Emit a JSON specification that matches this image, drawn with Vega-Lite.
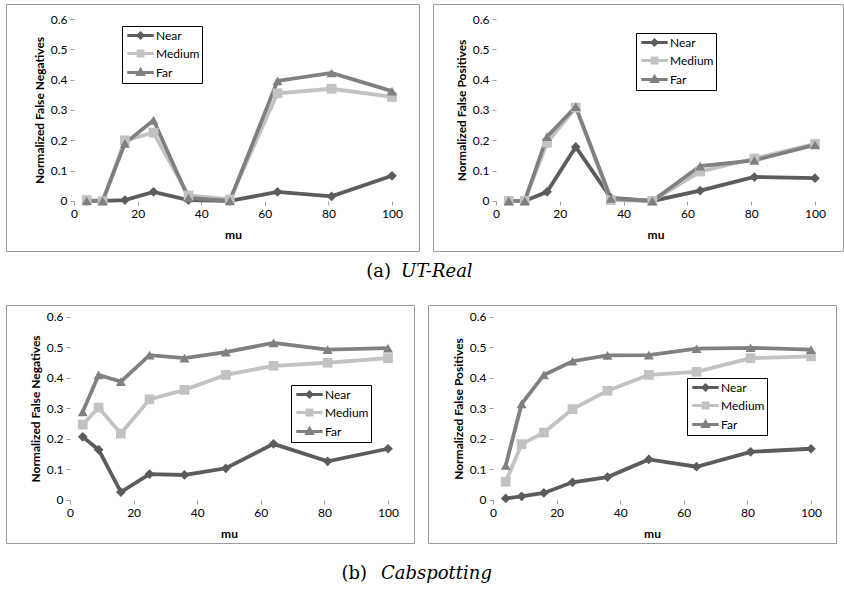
{
  "$schema": "https://vega.github.io/schema/vega-lite/v6.json",
  "padding": {"left": 5, "top": 3, "right": 0, "bottom": 0},
  "spacing": 22,
  "datasets": {
    "grid": [{"v": 0.1}, {"v": 0.2}, {"v": 0.3}, {"v": 0.4}, {"v": 0.5}, {"v": 0.6}],
    "d": [
      {"p":"a1","s":"Near","mu":4,"v":0},{"p":"a1","s":"Near","mu":9,"v":0},{"p":"a1","s":"Near","mu":16,"v":0.003},{"p":"a1","s":"Near","mu":25,"v":0.03},{"p":"a1","s":"Near","mu":36,"v":0.003},{"p":"a1","s":"Near","mu":49,"v":0},{"p":"a1","s":"Near","mu":64,"v":0.03},{"p":"a1","s":"Near","mu":81,"v":0.015},{"p":"a1","s":"Near","mu":100,"v":0.083},
      {"p":"a1","s":"Medium","mu":4,"v":0.003},{"p":"a1","s":"Medium","mu":9,"v":0},{"p":"a1","s":"Medium","mu":16,"v":0.2},{"p":"a1","s":"Medium","mu":25,"v":0.225},{"p":"a1","s":"Medium","mu":36,"v":0.018},{"p":"a1","s":"Medium","mu":49,"v":0.005},{"p":"a1","s":"Medium","mu":64,"v":0.355},{"p":"a1","s":"Medium","mu":81,"v":0.37},{"p":"a1","s":"Medium","mu":100,"v":0.343},
      {"p":"a1","s":"Far","mu":4,"v":0},{"p":"a1","s":"Far","mu":9,"v":0},{"p":"a1","s":"Far","mu":16,"v":0.19},{"p":"a1","s":"Far","mu":25,"v":0.266},{"p":"a1","s":"Far","mu":36,"v":0.01},{"p":"a1","s":"Far","mu":49,"v":0},{"p":"a1","s":"Far","mu":64,"v":0.396},{"p":"a1","s":"Far","mu":81,"v":0.422},{"p":"a1","s":"Far","mu":100,"v":0.362},
      {"p":"a2","s":"Near","mu":4,"v":0},{"p":"a2","s":"Near","mu":9,"v":0},{"p":"a2","s":"Near","mu":16,"v":0.03},{"p":"a2","s":"Near","mu":25,"v":0.178},{"p":"a2","s":"Near","mu":36,"v":0.01},{"p":"a2","s":"Near","mu":49,"v":0},{"p":"a2","s":"Near","mu":64,"v":0.034},{"p":"a2","s":"Near","mu":81,"v":0.079},{"p":"a2","s":"Near","mu":100,"v":0.075},
      {"p":"a2","s":"Medium","mu":4,"v":0},{"p":"a2","s":"Medium","mu":9,"v":0},{"p":"a2","s":"Medium","mu":16,"v":0.192},{"p":"a2","s":"Medium","mu":25,"v":0.308},{"p":"a2","s":"Medium","mu":36,"v":0.003},{"p":"a2","s":"Medium","mu":49,"v":0},{"p":"a2","s":"Medium","mu":64,"v":0.097},{"p":"a2","s":"Medium","mu":81,"v":0.14},{"p":"a2","s":"Medium","mu":100,"v":0.188},
      {"p":"a2","s":"Far","mu":4,"v":0},{"p":"a2","s":"Far","mu":9,"v":0},{"p":"a2","s":"Far","mu":16,"v":0.212},{"p":"a2","s":"Far","mu":25,"v":0.311},{"p":"a2","s":"Far","mu":36,"v":0.008},{"p":"a2","s":"Far","mu":49,"v":0},{"p":"a2","s":"Far","mu":64,"v":0.115},{"p":"a2","s":"Far","mu":81,"v":0.134},{"p":"a2","s":"Far","mu":100,"v":0.185},
      {"p":"b1","s":"Near","mu":4,"v":0.207},{"p":"b1","s":"Near","mu":9,"v":0.165},{"p":"b1","s":"Near","mu":16,"v":0.026},{"p":"b1","s":"Near","mu":25,"v":0.085},{"p":"b1","s":"Near","mu":36,"v":0.082},{"p":"b1","s":"Near","mu":49,"v":0.104},{"p":"b1","s":"Near","mu":64,"v":0.184},{"p":"b1","s":"Near","mu":81,"v":0.127},{"p":"b1","s":"Near","mu":100,"v":0.168},
      {"p":"b1","s":"Medium","mu":4,"v":0.247},{"p":"b1","s":"Medium","mu":9,"v":0.303},{"p":"b1","s":"Medium","mu":16,"v":0.218},{"p":"b1","s":"Medium","mu":25,"v":0.33},{"p":"b1","s":"Medium","mu":36,"v":0.361},{"p":"b1","s":"Medium","mu":49,"v":0.41},{"p":"b1","s":"Medium","mu":64,"v":0.44},{"p":"b1","s":"Medium","mu":81,"v":0.45},{"p":"b1","s":"Medium","mu":100,"v":0.465},
      {"p":"b1","s":"Far","mu":4,"v":0.289},{"p":"b1","s":"Far","mu":9,"v":0.41},{"p":"b1","s":"Far","mu":16,"v":0.388},{"p":"b1","s":"Far","mu":25,"v":0.475},{"p":"b1","s":"Far","mu":36,"v":0.465},{"p":"b1","s":"Far","mu":49,"v":0.485},{"p":"b1","s":"Far","mu":64,"v":0.515},{"p":"b1","s":"Far","mu":81,"v":0.493},{"p":"b1","s":"Far","mu":100,"v":0.498},
      {"p":"b2","s":"Near","mu":4,"v":0.005},{"p":"b2","s":"Near","mu":9,"v":0.012},{"p":"b2","s":"Near","mu":16,"v":0.023},{"p":"b2","s":"Near","mu":25,"v":0.058},{"p":"b2","s":"Near","mu":36,"v":0.075},{"p":"b2","s":"Near","mu":49,"v":0.133},{"p":"b2","s":"Near","mu":64,"v":0.109},{"p":"b2","s":"Near","mu":81,"v":0.158},{"p":"b2","s":"Near","mu":100,"v":0.168},
      {"p":"b2","s":"Medium","mu":4,"v":0.06},{"p":"b2","s":"Medium","mu":9,"v":0.183},{"p":"b2","s":"Medium","mu":16,"v":0.221},{"p":"b2","s":"Medium","mu":25,"v":0.298},{"p":"b2","s":"Medium","mu":36,"v":0.358},{"p":"b2","s":"Medium","mu":49,"v":0.41},{"p":"b2","s":"Medium","mu":64,"v":0.42},{"p":"b2","s":"Medium","mu":81,"v":0.465},{"p":"b2","s":"Medium","mu":100,"v":0.471},
      {"p":"b2","s":"Far","mu":4,"v":0.113},{"p":"b2","s":"Far","mu":9,"v":0.315},{"p":"b2","s":"Far","mu":16,"v":0.41},{"p":"b2","s":"Far","mu":25,"v":0.455},{"p":"b2","s":"Far","mu":36,"v":0.474},{"p":"b2","s":"Far","mu":49,"v":0.475},{"p":"b2","s":"Far","mu":64,"v":0.496},{"p":"b2","s":"Far","mu":81,"v":0.499},{"p":"b2","s":"Far","mu":100,"v":0.493}
    ]
  },
  "resolve": {"scale": {"x": "independent", "y": "independent", "fill": "independent", "stroke": "independent", "shape": "independent"}, "legend": {"fill": "independent", "stroke": "independent", "shape": "independent"}},
  "vconcat": [
    {
      "hconcat": [
        {
          "width": 413, "height": 247,
          "title": {"text": "(a)", "orient": "bottom", "anchor": "end", "frame": "group", "dx": -28, "offset": 12, "baseline": "top", "font": "DejaVu Serif", "fontSize": 18, "fontWeight": "normal", "color": "#000"},
          "encoding": {
            "x": {"field": "mu", "type": "quantitative", "scale": {"domain": [-21.4, 108.5], "nice": false, "zero": false}, "axis": {"values": [0, 20, 40, 60, 80, 100], "offset": -50, "title": "mu", "titleX": 227, "titlePadding": 10}},
            "y": {"field": "v", "type": "quantitative", "scale": {"domain": [-0.165, 0.6495], "nice": false, "zero": false}, "axis": {"values": [0, 0.1, 0.2, 0.3, 0.4, 0.5, 0.6], "format": ".1~f", "offset": -68, "title": "Normalized False Negatives", "titleY": 106}}
          },
          "layer": [
            {"data": {"name": "grid"}, "mark": {"type": "rule", "color": "#b3b3b3", "strokeWidth": 1}, "encoding": {"x": {"datum": 0}, "x2": {"datum": 100}}},
            {"data": {"values": [{}]}, "mark": {"type": "rule", "color": "#a6a6a6", "strokeWidth": 1}, "encoding": {"x": {"datum": 0}, "x2": {"datum": 100}, "y": {"datum": 0}}},
            {"data": {"values": [{}]}, "mark": {"type": "rule", "color": "#b3b3b3", "strokeWidth": 1}, "encoding": {"x": {"datum": 0}, "y": {"datum": 0}, "y2": {"datum": 0.6}}},
            {"data": {"name": "d"}, "transform": [{"filter": "datum.p=='a1'"}], "mark": {"type": "line", "strokeWidth": 3.8}, "encoding": {"stroke": {"field": "s", "type": "nominal", "scale": {"domain": ["Near", "Medium", "Far"], "range": ["#5c5c5c", "#c2c2c2", "#808080"]}, "legend": {"orient": "none", "legendX": 116, "legendY": 22, "title": null, "labelExpr": "datum.label + '  '"}}}},
            {"data": {"name": "d"}, "transform": [{"filter": "datum.p=='a1' && datum.s=='Near'"}], "mark": {"type": "point", "shape": "diamond", "filled": true, "opacity": 1, "size": 95, "color": "#5c5c5c"}},
            {"data": {"name": "d"}, "transform": [{"filter": "datum.p=='a1' && datum.s=='Medium'"}], "mark": {"type": "point", "shape": "square", "filled": true, "opacity": 1, "size": 95, "color": "#c2c2c2"}},
            {"data": {"name": "d"}, "transform": [{"filter": "datum.p=='a1' && datum.s=='Far'"}], "mark": {"type": "point", "shape": "triangle-up", "filled": true, "opacity": 1, "size": 100, "color": "#808080"}},
            {"data": {"name": "d"}, "transform": [{"filter": "false"}], "mark": {"type": "point", "filled": true, "opacity": 1},
             "encoding": {
               "fill": {"field": "s", "type": "nominal", "scale": {"domain": ["Near", "Medium", "Far"], "range": ["#5c5c5c", "#c2c2c2", "#808080"]}, "legend": {"orient": "none", "legendX": 116, "legendY": 22, "title": null, "labelExpr": "datum.label + '  '"}},
               "stroke": {"field": "s", "type": "nominal", "scale": {"domain": ["Near", "Medium", "Far"], "range": ["#5c5c5c", "#c2c2c2", "#808080"]}, "legend": {"orient": "none", "legendX": 116, "legendY": 22, "title": null, "labelExpr": "datum.label + '  '"}},
               "shape": {"field": "s", "type": "nominal", "scale": {"domain": ["Near", "Medium", "Far"], "range": ["M-0.7,0L3.7,0M1.5,-0.4L1.9,0L1.5,0.4L1.1,0Z", "M-0.7,0L3.7,0M1.1,-0.4L1.9,-0.4L1.9,0.4L1.1,0.4Z", "M-0.7,0L3.7,0M1.5,-0.45L1.95,0.35L1.05,0.35Z"]}, "legend": {"orient": "none", "legendX": 116, "legendY": 22, "title": null, "labelExpr": "datum.label + '  '"}}
             }}
          ]
        },
        {
          "width": 410, "height": 247,
          "title": {"text": "UT-Real", "orient": "bottom", "anchor": "start", "frame": "group", "dx": -32, "offset": 12, "baseline": "top", "font": "DejaVu Serif", "fontSize": 18, "fontStyle": "italic", "fontWeight": "normal", "color": "#000"},
          "encoding": {
            "x": {"field": "mu", "type": "quantitative", "scale": {"domain": [-19.75, 108.78], "nice": false, "zero": false}, "axis": {"values": [0, 20, 40, 60, 80, 100], "offset": -50, "title": "mu", "titleX": 222.5, "titlePadding": 10}},
            "y": {"field": "v", "type": "quantitative", "scale": {"domain": [-0.165, 0.6495], "nice": false, "zero": false}, "axis": {"values": [0, 0.1, 0.2, 0.3, 0.4, 0.5, 0.6], "format": ".1~f", "offset": -63, "title": "Normalized False Positives", "titleY": 106}}
          },
          "layer": [
            {"data": {"name": "grid"}, "mark": {"type": "rule", "color": "#b3b3b3", "strokeWidth": 1}, "encoding": {"x": {"datum": 0}, "x2": {"datum": 100}}},
            {"data": {"values": [{}]}, "mark": {"type": "rule", "color": "#a6a6a6", "strokeWidth": 1}, "encoding": {"x": {"datum": 0}, "x2": {"datum": 100}, "y": {"datum": 0}}},
            {"data": {"values": [{}]}, "mark": {"type": "rule", "color": "#b3b3b3", "strokeWidth": 1}, "encoding": {"x": {"datum": 0}, "y": {"datum": 0}, "y2": {"datum": 0.6}}},
            {"data": {"name": "d"}, "transform": [{"filter": "datum.p=='a2'"}], "mark": {"type": "line", "strokeWidth": 3.8}, "encoding": {"stroke": {"field": "s", "type": "nominal", "scale": {"domain": ["Near", "Medium", "Far"], "range": ["#5c5c5c", "#c2c2c2", "#808080"]}, "legend": {"orient": "none", "legendX": 203, "legendY": 29, "title": null, "labelExpr": "datum.label + '  '"}}}},
            {"data": {"name": "d"}, "transform": [{"filter": "datum.p=='a2' && datum.s=='Near'"}], "mark": {"type": "point", "shape": "diamond", "filled": true, "opacity": 1, "size": 95, "color": "#5c5c5c"}},
            {"data": {"name": "d"}, "transform": [{"filter": "datum.p=='a2' && datum.s=='Medium'"}], "mark": {"type": "point", "shape": "square", "filled": true, "opacity": 1, "size": 95, "color": "#c2c2c2"}},
            {"data": {"name": "d"}, "transform": [{"filter": "datum.p=='a2' && datum.s=='Far'"}], "mark": {"type": "point", "shape": "triangle-up", "filled": true, "opacity": 1, "size": 100, "color": "#808080"}},
            {"data": {"name": "d"}, "transform": [{"filter": "false"}], "mark": {"type": "point", "filled": true, "opacity": 1},
             "encoding": {
               "fill": {"field": "s", "type": "nominal", "scale": {"domain": ["Near", "Medium", "Far"], "range": ["#5c5c5c", "#c2c2c2", "#808080"]}, "legend": {"orient": "none", "legendX": 203, "legendY": 29, "title": null, "labelExpr": "datum.label + '  '"}},
               "stroke": {"field": "s", "type": "nominal", "scale": {"domain": ["Near", "Medium", "Far"], "range": ["#5c5c5c", "#c2c2c2", "#808080"]}, "legend": {"orient": "none", "legendX": 203, "legendY": 29, "title": null, "labelExpr": "datum.label + '  '"}},
               "shape": {"field": "s", "type": "nominal", "scale": {"domain": ["Near", "Medium", "Far"], "range": ["M-0.7,0L3.7,0M1.5,-0.4L1.9,0L1.5,0.4L1.1,0Z", "M-0.7,0L3.7,0M1.1,-0.4L1.9,-0.4L1.9,0.4L1.1,0.4Z", "M-0.7,0L3.7,0M1.5,-0.45L1.95,0.35L1.05,0.35Z"]}, "legend": {"orient": "none", "legendX": 203, "legendY": 29, "title": null, "labelExpr": "datum.label + '  '"}}
             }}
          ]
        }
      ],
      "spacing": 14,
      "bounds": "flush",
      "resolve": {"scale": {"x": "independent", "y": "independent", "fill": "independent", "stroke": "independent", "shape": "independent"}, "legend": {"fill": "independent", "stroke": "independent", "shape": "independent"}}
    },
    {
      "hconcat": [
        {
          "width": 408, "height": 238,
          "title": {"text": "(b)", "orient": "bottom", "anchor": "end", "frame": "group", "dx": -47, "offset": 22, "baseline": "top", "font": "DejaVu Serif", "fontSize": 18, "fontWeight": "normal", "color": "#000"},
          "encoding": {
            "x": {"field": "mu", "type": "quantitative", "scale": {"domain": [-20.13, 108.18], "nice": false, "zero": false}, "axis": {"values": [0, 20, 40, 60, 80, 100], "offset": -43, "title": "mu", "titleX": 223, "titlePadding": 10}},
            "y": {"field": "v", "type": "quantitative", "scale": {"domain": [-0.141, 0.6393], "nice": false, "zero": false}, "axis": {"values": [0, 0.1, 0.2, 0.3, 0.4, 0.5, 0.6], "format": ".1~f", "offset": -64, "title": "Normalized False Negatives", "titleY": 103.5}}
          },
          "layer": [
            {"data": {"name": "grid"}, "mark": {"type": "rule", "color": "#b3b3b3", "strokeWidth": 1}, "encoding": {"x": {"datum": 0}, "x2": {"datum": 100}}},
            {"data": {"values": [{}]}, "mark": {"type": "rule", "color": "#a6a6a6", "strokeWidth": 1}, "encoding": {"x": {"datum": 0}, "x2": {"datum": 100}, "y": {"datum": 0}}},
            {"data": {"values": [{}]}, "mark": {"type": "rule", "color": "#b3b3b3", "strokeWidth": 1}, "encoding": {"x": {"datum": 0}, "y": {"datum": 0}, "y2": {"datum": 0.6}}},
            {"data": {"name": "d"}, "transform": [{"filter": "datum.p=='b1'"}], "mark": {"type": "line", "strokeWidth": 3.8}, "encoding": {"stroke": {"field": "s", "type": "nominal", "scale": {"domain": ["Near", "Medium", "Far"], "range": ["#5c5c5c", "#c2c2c2", "#808080"]}, "legend": {"orient": "none", "legendX": 285, "legendY": 80, "title": null, "labelExpr": "datum.label + '  '"}}}},
            {"data": {"name": "d"}, "transform": [{"filter": "datum.p=='b1' && datum.s=='Near'"}], "mark": {"type": "point", "shape": "diamond", "filled": true, "opacity": 1, "size": 95, "color": "#5c5c5c"}},
            {"data": {"name": "d"}, "transform": [{"filter": "datum.p=='b1' && datum.s=='Medium'"}], "mark": {"type": "point", "shape": "square", "filled": true, "opacity": 1, "size": 95, "color": "#c2c2c2"}},
            {"data": {"name": "d"}, "transform": [{"filter": "datum.p=='b1' && datum.s=='Far'"}], "mark": {"type": "point", "shape": "triangle-up", "filled": true, "opacity": 1, "size": 100, "color": "#808080"}},
            {"data": {"name": "d"}, "transform": [{"filter": "false"}], "mark": {"type": "point", "filled": true, "opacity": 1},
             "encoding": {
               "fill": {"field": "s", "type": "nominal", "scale": {"domain": ["Near", "Medium", "Far"], "range": ["#5c5c5c", "#c2c2c2", "#808080"]}, "legend": {"orient": "none", "legendX": 285, "legendY": 80, "title": null, "labelExpr": "datum.label + '  '"}},
               "stroke": {"field": "s", "type": "nominal", "scale": {"domain": ["Near", "Medium", "Far"], "range": ["#5c5c5c", "#c2c2c2", "#808080"]}, "legend": {"orient": "none", "legendX": 285, "legendY": 80, "title": null, "labelExpr": "datum.label + '  '"}},
               "shape": {"field": "s", "type": "nominal", "scale": {"domain": ["Near", "Medium", "Far"], "range": ["M-0.7,0L3.7,0M1.5,-0.4L1.9,0L1.5,0.4L1.1,0Z", "M-0.7,0L3.7,0M1.1,-0.4L1.9,-0.4L1.9,0.4L1.1,0.4Z", "M-0.7,0L3.7,0M1.5,-0.45L1.95,0.35L1.05,0.35Z"]}, "legend": {"orient": "none", "legendX": 285, "legendY": 80, "title": null, "labelExpr": "datum.label + '  '"}}
             }}
          ]
        },
        {
          "width": 408, "height": 238,
          "title": {"text": "Cabspotting", "orient": "bottom", "anchor": "start", "frame": "group", "dx": -47, "offset": 22, "baseline": "top", "font": "DejaVu Serif", "fontSize": 18, "fontStyle": "italic", "fontWeight": "normal", "color": "#000"},
          "encoding": {
            "x": {"field": "mu", "type": "quantitative", "scale": {"domain": [-20.44, 107.86], "nice": false, "zero": false}, "axis": {"values": [0, 20, 40, 60, 80, 100], "offset": -43, "title": "mu", "titleX": 224, "titlePadding": 10}},
            "y": {"field": "v", "type": "quantitative", "scale": {"domain": [-0.141, 0.6393], "nice": false, "zero": false}, "axis": {"values": [0, 0.1, 0.2, 0.3, 0.4, 0.5, 0.6], "format": ".1~f", "offset": -65, "title": "Normalized False Positives", "titleY": 103.5}}
          },
          "layer": [
            {"data": {"name": "grid"}, "mark": {"type": "rule", "color": "#b3b3b3", "strokeWidth": 1}, "encoding": {"x": {"datum": 0}, "x2": {"datum": 100}}},
            {"data": {"values": [{}]}, "mark": {"type": "rule", "color": "#a6a6a6", "strokeWidth": 1}, "encoding": {"x": {"datum": 0}, "x2": {"datum": 100}, "y": {"datum": 0}}},
            {"data": {"values": [{}]}, "mark": {"type": "rule", "color": "#b3b3b3", "strokeWidth": 1}, "encoding": {"x": {"datum": 0}, "y": {"datum": 0}, "y2": {"datum": 0.6}}},
            {"data": {"name": "d"}, "transform": [{"filter": "datum.p=='b2'"}], "mark": {"type": "line", "strokeWidth": 3.8}, "encoding": {"stroke": {"field": "s", "type": "nominal", "scale": {"domain": ["Near", "Medium", "Far"], "range": ["#5c5c5c", "#c2c2c2", "#808080"]}, "legend": {"orient": "none", "legendX": 259, "legendY": 73, "title": null, "labelExpr": "datum.label + '  '"}}}},
            {"data": {"name": "d"}, "transform": [{"filter": "datum.p=='b2' && datum.s=='Near'"}], "mark": {"type": "point", "shape": "diamond", "filled": true, "opacity": 1, "size": 95, "color": "#5c5c5c"}},
            {"data": {"name": "d"}, "transform": [{"filter": "datum.p=='b2' && datum.s=='Medium'"}], "mark": {"type": "point", "shape": "square", "filled": true, "opacity": 1, "size": 95, "color": "#c2c2c2"}},
            {"data": {"name": "d"}, "transform": [{"filter": "datum.p=='b2' && datum.s=='Far'"}], "mark": {"type": "point", "shape": "triangle-up", "filled": true, "opacity": 1, "size": 100, "color": "#808080"}},
            {"data": {"name": "d"}, "transform": [{"filter": "false"}], "mark": {"type": "point", "filled": true, "opacity": 1},
             "encoding": {
               "fill": {"field": "s", "type": "nominal", "scale": {"domain": ["Near", "Medium", "Far"], "range": ["#5c5c5c", "#c2c2c2", "#808080"]}, "legend": {"orient": "none", "legendX": 259, "legendY": 73, "title": null, "labelExpr": "datum.label + '  '"}},
               "stroke": {"field": "s", "type": "nominal", "scale": {"domain": ["Near", "Medium", "Far"], "range": ["#5c5c5c", "#c2c2c2", "#808080"]}, "legend": {"orient": "none", "legendX": 259, "legendY": 73, "title": null, "labelExpr": "datum.label + '  '"}},
               "shape": {"field": "s", "type": "nominal", "scale": {"domain": ["Near", "Medium", "Far"], "range": ["M-0.7,0L3.7,0M1.5,-0.4L1.9,0L1.5,0.4L1.1,0Z", "M-0.7,0L3.7,0M1.1,-0.4L1.9,-0.4L1.9,0.4L1.1,0.4Z", "M-0.7,0L3.7,0M1.5,-0.45L1.95,0.35L1.05,0.35Z"]}, "legend": {"orient": "none", "legendX": 259, "legendY": 73, "title": null, "labelExpr": "datum.label + '  '"}}
             }}
          ]
        }
      ],
      "spacing": 14,
      "bounds": "flush",
      "resolve": {"scale": {"x": "independent", "y": "independent", "fill": "independent", "stroke": "independent", "shape": "independent"}, "legend": {"fill": "independent", "stroke": "independent", "shape": "independent"}}
    }
  ],
  "config": {
    "font": "Lato",
    "view": {"stroke": "#9a9a9a", "strokeWidth": 1},
    "axis": {"grid": false, "domain": false, "ticks": true, "tickColor": "#a0a0a0", "tickSize": 4, "labelPadding": 3, "labelFont": "Lato", "labelFontSize": 12, "labelColor": "#000", "titleFont": "Lato", "titleFontSize": 12, "titleFontWeight": "bold", "titleColor": "#000"},
    "legend": {"strokeColor": "#000", "fillColor": "#fff", "padding": 2, "rowPadding": 1, "labelOffset": 17, "labelFont": "Lato", "labelFontSize": 12, "labelColor": "#000", "symbolSize": 144, "symbolStrokeWidth": 3, "symbolOpacity": 1}
  }
}
